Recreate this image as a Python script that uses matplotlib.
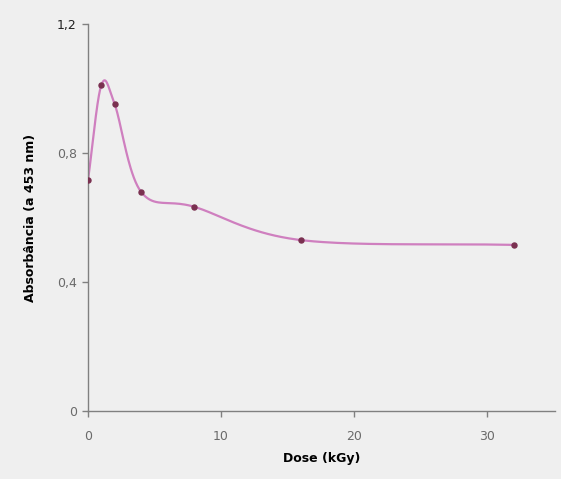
import numpy as np
import matplotlib
matplotlib.use("Agg")
import matplotlib.pyplot as plt

# Absorbance at 453 nm versus irradiation dose
dose = [0, 1, 2, 4, 8, 16, 32]
absorbance = [0.716, 1.01, 0.952, 0.679, 0.633, 0.53, 0.515]

x_ticks = [0, 10, 20, 30]
x_tick_labels = ["0", "10", "20", "30"]
y_ticks = [0, 0.4, 0.8, 1.2]
y_tick_labels = ["0", "0,4", "0,8", "1,2"]


def smooth_curve(xs, ys, n=40):
    """Centripetal-free Catmull-Rom style smoothing like spreadsheet 'smoothed lines'."""
    xs = np.asarray(xs, float)
    ys = np.asarray(ys, float)
    px = np.concatenate([[2 * xs[0] - xs[1]], xs, [2 * xs[-1] - xs[-2]]])
    py = np.concatenate([[2 * ys[0] - ys[1]], ys, [2 * ys[-1] - ys[-2]]])
    out_x, out_y = [], []
    t = np.linspace(0, 1, n)
    for i in range(1, len(px) - 2):
        p0, p1, p2, p3 = (np.array([px[j], py[j]]) for j in range(i - 1, i + 3))
        c1 = p1 + (p2 - p0) / 6.0
        c2 = p2 - (p3 - p1) / 6.0
        b = ((1 - t) ** 3)[:, None] * p1 + (3 * (1 - t) ** 2 * t)[:, None] * c1 \
            + (3 * (1 - t) * t ** 2)[:, None] * c2 + (t ** 3)[:, None] * p2
        out_x.extend(b[:, 0])
        out_y.extend(b[:, 1])
    return np.array(out_x), np.array(out_y)


bg = "#efefef"
fig = plt.figure(figsize=(5.61, 4.79), dpi=100, facecolor=bg)
ax = fig.add_axes([88 / 561, (479 - 411) / 479, (555 - 88) / 561, (411 - 24) / 479])
ax.set_facecolor(bg)

sx, sy = smooth_curve(dose, absorbance)
ax.plot(sx, sy, color="#cf7fbf", lw=1.6, zorder=2)
ax.plot(dose, absorbance, linestyle="none", marker="o", ms=3.6,
        color="#7a3050", zorder=3)

ax.set_xlim(0, 35.1)
ax.set_ylim(0, 1.2)
ax.set_xticks(x_ticks)
ax.set_xticklabels(x_tick_labels)
ax.set_yticks(y_ticks)
ax.set_yticklabels(y_tick_labels)

for side in ("top", "right"):
    ax.spines[side].set_visible(False)
for side in ("left", "bottom"):
    ax.spines[side].set_color("#808080")
    ax.spines[side].set_linewidth(1.0)

ax.tick_params(axis="both", colors="#808080", labelcolor="#6a6a6a",
               labelsize=9, length=4, width=1)
ax.tick_params(axis="x", pad=10)
ax.tick_params(axis="y", pad=4)
ax.get_yticklabels()[-1].set_color("#202020")

ax.set_xlabel("Dose (kGy)", fontsize=9, fontweight="bold", labelpad=6)
ax.set_ylabel("Absorbância (a 453 nm)", fontsize=9, fontweight="bold", labelpad=14)

fig.savefig("out.png", dpi=100, facecolor=bg)
